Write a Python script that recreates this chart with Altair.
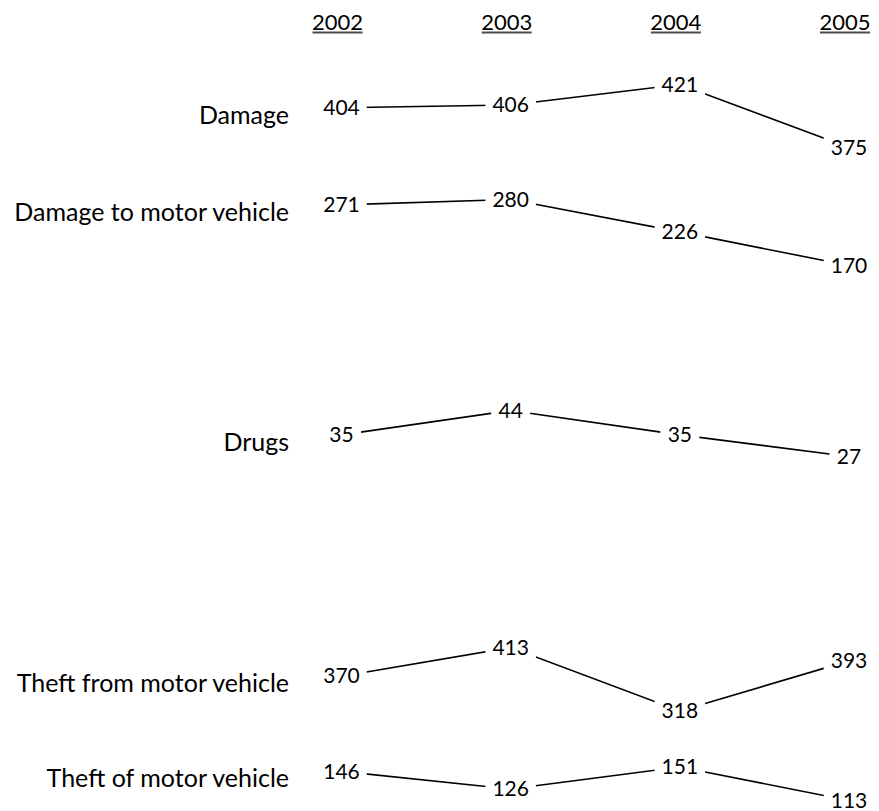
import altair as alt
import pandas as pd

# ---- data ----
years = [2002, 2003, 2004, 2005]
categories = [
    "Damage",
    "Damage to motor vehicle",
    "Drugs",
    "Theft from motor vehicle",
    "Theft of motor vehicle",
]
damage = [404, 406, 421, 375]
damage_motor_vehicle = [271, 280, 226, 170]
drugs = [35, 44, 35, 27]
theft_from_motor_vehicle = [370, 413, 318, 393]
theft_of_motor_vehicle = [146, 126, 151, 113]
series = [damage, damage_motor_vehicle, drugs,
          theft_from_motor_vehicle, theft_of_motor_vehicle]

# ---- layout (each row has its own vertical scale: pixel range bottom/top) ----
row_ranges = [(139.5, 76.5), (257.5, 191.5), (448.5, 402.5), (703, 639.5), (792.5, 759)]
W, H = 863, 803
FONT = "Lato"

x_enc = alt.X("year:Q", scale=alt.Scale(domain=[2002, 2005], range=[333.5, 841]), axis=None)

rows = []
for cat, vals, rng in zip(categories, series, row_ranges):
    df = pd.DataFrame({"year": years, "value": vals})
    df["category"] = cat
    df["label"] = df["value"].astype(str)
    y_enc = alt.Y("value:Q",
                  scale=alt.Scale(domain=[min(vals), max(vals)], range=list(rng),
                                  zero=False, nice=False),
                  axis=None)
    base = alt.Chart(df).encode(x=x_enc, y=y_enc)
    line = base.mark_line(color="black", strokeWidth=1.6)
    mask = base.transform_calculate(
        msize="pow(11.5*length(datum.label)+16, 2)"
    ).mark_point(
        shape="M-1,-0.42H1V0.42H-1Z", filled=True, color="white",
        strokeWidth=0, opacity=1
    ).encode(size=alt.Size("msize:Q", scale=None, legend=None))
    text = base.mark_text(font=FONT, fontSize=21, color="black", dy=1.2).encode(text="label:N")
    lab = alt.Chart(df).transform_filter(alt.datum.year == 2002).mark_text(
        font=FONT, fontSize=25, color="black", align="right", dy=8
    ).encode(x=alt.value(281), y=y_enc, text="category:N")
    rows.append(alt.layer(line, mask, text, lab))

hdr = pd.DataFrame({"year": years, "label": [str(y) for y in years]})
header_text = alt.Chart(hdr).mark_text(
    font=FONT, fontSize=22, color="black", baseline="alphabetic", dx=-4
).encode(x=x_enc, y=alt.value(22), text="label:N")
underline = alt.Chart(hdr).mark_tick(
    orient="horizontal", size=50, thickness=2, color="black", xOffset=-4
).encode(x=x_enc, y=alt.value(24.5))

chart = alt.layer(header_text, underline, *rows).resolve_scale(
    y="independent"
).properties(
    width=W, height=H, padding=0,
    autosize=alt.AutoSizeParams(type="none"),
).configure_view(strokeWidth=0)

chart.save("out.html", embed_options={"renderer": "svg", "actions": False})
